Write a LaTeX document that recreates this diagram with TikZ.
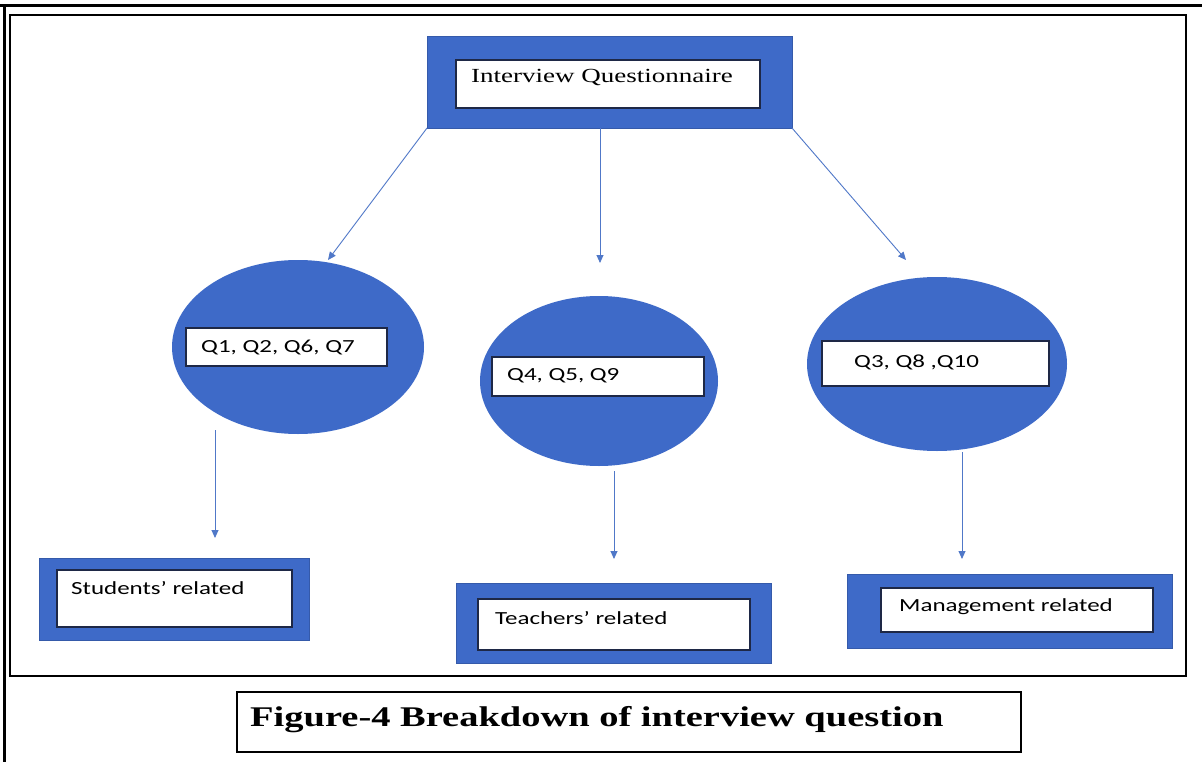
\documentclass[tikz,border=0pt]{standalone}
\usepackage{fontspec}
\usepackage{graphicx}
\usetikzlibrary{arrows.meta,shapes.geometric}
\setmainfont{Liberation Serif}
\newfontfamily\calib{Carlito}
\definecolor{boxblue}{RGB}{62,106,200}
\definecolor{arrowblue}{RGB}{80,120,200}
\definecolor{edgedark}{RGB}{30,40,70}
\newcommand{\wide}[1]{\scalebox{1.35}[1]{#1}}
\begin{document}
\begin{tikzpicture}[x=1pt,y=-1pt,
  bluebox/.style={fill=boxblue,draw=boxblue!85!black,line width=0.8pt},
  whitebox/.style={fill=white,draw=edgedark,line width=1.2pt},
  blob/.style={fill=boxblue,draw=none},
  conn/.style={draw=arrowblue,line width=0.9pt,-{Triangle[length=8pt,width=7pt]}},
  lbl/.style={anchor=west,inner sep=0pt,font=\calib\fontsize{18.5}{20}\selectfont},
  frame/.style={draw=black,line width=3pt}]
\useasboundingbox (0,0) rectangle (1202,762);
\fill[white] (0,0) rectangle (1202,762);
% page frames
\draw[frame] (0,6) -- (1202,6);
\draw[frame] (4,6) -- (4,762);
\draw[black,line width=2pt] (10,15) rectangle (1186,676);
% top box
\path[bluebox] (427,36) rectangle (792,128);
\path[whitebox] (456,60) rectangle (760,108);
\node[anchor=west,inner sep=0pt,font=\fontsize{20}{22}\selectfont] (top) at (471,78) {\wide{Interview Questionnaire}};
\coordinate (topL) at (427,128);
\coordinate (topM) at (600,128);
\coordinate (topR) at (792,128);
% ellipses
\path[blob] (298,347) ellipse [x radius=126, y radius=87];
\path[whitebox] (186,328) rectangle (387,366);
\node[lbl] (q1) at (201,347) {\wide{Q1, Q2, Q6, Q7}};
\path[blob] (599,381) ellipse [x radius=119, y radius=85];
\path[whitebox] (492,357) rectangle (704,396);
\node[lbl] (q4) at (507,376) {\wide{Q4, Q5, Q9}};
\path[blob] (937,364) ellipse [x radius=130, y radius=87];
\path[whitebox] (822,341) rectangle (1049,386);
\node[lbl] (q3) at (854,362) {\wide{Q3, Q8 ,Q10}};
\coordinate (e1t) at (328,260);
\coordinate (e2t) at (600,263);
\coordinate (e3t) at (906,260);
\coordinate (e1b) at (215,430);
\coordinate (e2b) at (614,471);
\coordinate (e3b) at (962,452);
\coordinate (b1t) at (215,538);
\coordinate (b2t) at (614,559);
\coordinate (b3t) at (962,559);
% bottom boxes
\path[bluebox] (39,558) rectangle (309,640);
\path[whitebox] (57,570) rectangle (292,627);
\node[lbl] (s) at (71,588) {\wide{Students’ related}};
\path[bluebox] (456,583) rectangle (771,663);
\path[whitebox] (478,599) rectangle (750,650);
\node[lbl] (t) at (495,618) {\wide{Teachers’ related}};
\path[bluebox] (847,574) rectangle (1172,648);
\path[whitebox] (881,588) rectangle (1153,632);
\node[lbl] (m) at (899,607) {\wide{Management related}};
% connectors
\draw[conn] (topL) -- (e1t);
\draw[conn] (topM) -- (e2t);
\draw[conn] (topR) -- (e3t);
\draw[conn] (e1b) -- (b1t);
\draw[conn] (e2b) -- (b2t);
\draw[conn] (e3b) -- (b3t);
% caption
\draw[black,line width=1.8pt] (237,692) rectangle (1021,752);
\node[anchor=west,inner sep=0pt,font=\bfseries\fontsize{28.5}{30}\selectfont] (cap) at (250,720) {\wide{Figure-4 Breakdown of interview question}};
\end{tikzpicture}
\end{document}
